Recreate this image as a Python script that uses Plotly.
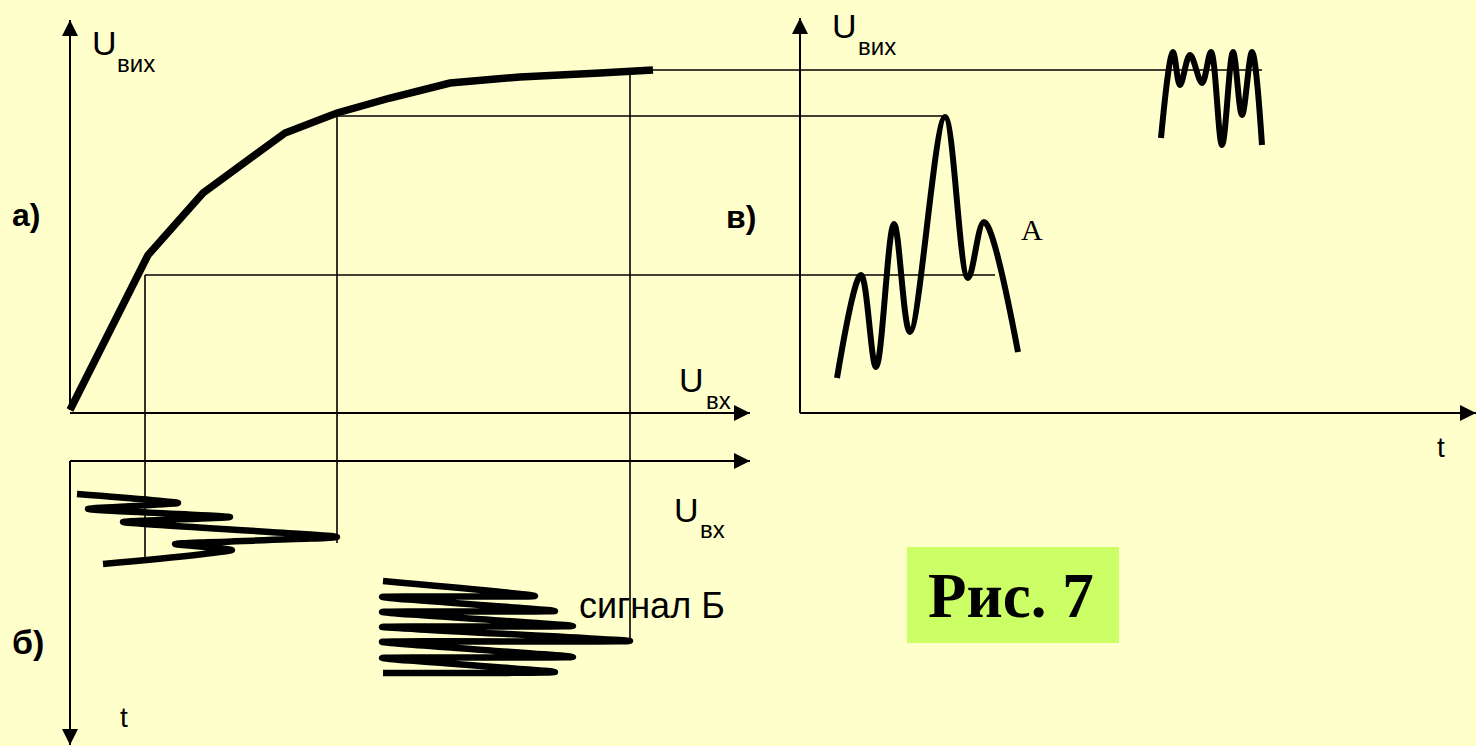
import plotly.graph_objects as go

W, H = 1476, 746
BG = "#FFFFCC"

# ---- transfer characteristic (panel a), pixel-space points ----
curve_x = [70, 148, 203, 285, 337, 390, 450, 520, 600, 653]
curve_y = [410, 255, 193, 133, 113, 98, 83, 77, 73, 70]

# ---- input signal (panel b), small amplitude ----
sig_b_x = [77, 178, 88, 230, 123, 337, 175, 232, 103]
sig_b_y = [494, 503, 509, 517, 522, 537, 544, 550, 564]

# ---- input signal Б (panel b), large amplitude ----
sig_B_x = [383, 535, 382, 555, 382, 573, 382, 630, 382, 573, 382, 555, 383]
sig_B_y = [581, 596, 597, 611, 612, 626, 627, 641, 642, 657, 658, 672, 673]

# ---- output signal A (panel в) ----
sig_A_x = [837, 861, 876, 894, 910, 945, 968, 984, 1018]
sig_A_y = [378, 275, 367, 224, 332, 117, 278, 222, 352]

# ---- output of signal Б (panel в), clipped ----
sig_out_x = [1161, 1173, 1180, 1190, 1202, 1211, 1222, 1233, 1242, 1252, 1262]
sig_out_y = [138, 52, 85, 55, 83, 52, 145, 52, 115, 52, 145]

# ---- projection lines (thin) ----
proj_h = [  # (x0, x1, y)
    (145, 995, 275),
    (337, 945, 116),
    (653, 1262, 70),
]
proj_v = [  # (x, y0, y1)
    (145, 275, 557),
    (337, 113, 543),
    (630, 73, 638),
]

fig = go.Figure()

def line(xs, ys, width, shape="linear", smoothing=1.0):
    fig.add_trace(go.Scatter(
        x=xs, y=ys, mode="lines",
        line=dict(color="black", width=width, shape=shape, smoothing=smoothing),
        hoverinfo="skip", showlegend=False))

# thin projection lines
for x0, x1, y in proj_h:
    line([x0, x1], [y, y], 1.6)
for x, y0, y1 in proj_v:
    line([x, x], [y0, y1], 1.6)

# axes
axes = [
    ((70, 410), (70, 20)),     # a: vertical up
    ((70, 413), (750, 413)),   # a: horizontal right
    ((70, 461), (750, 461)),   # b: horizontal right
    ((70, 461), (70, 745)),    # b: vertical down
    ((800, 413), (800, 18)),   # в: vertical up
    ((800, 413), (1476, 413)), # в: horizontal right
]
for (x0, y0), (x1, y1) in axes:
    line([x0, x1], [y0, y1], 2)
    fig.add_annotation(x=x1, y=y1, ax=x0, ay=y0, xref="x", yref="y",
                       axref="x", ayref="y", text="", showarrow=True,
                       arrowhead=2, arrowsize=1.6, arrowwidth=2,
                       arrowcolor="black")

# thick curves
line(curve_x, curve_y, 7.5)
line(sig_b_x, sig_b_y, 6.5, shape="spline", smoothing=0.5)
line(sig_B_x, sig_B_y, 6.5, shape="spline", smoothing=0.5)
line(sig_A_x, sig_A_y, 6, shape="spline", smoothing=1.0)
line(sig_out_x, sig_out_y, 6, shape="spline", smoothing=1.0)

# "Рис. 7" box
fig.add_shape(type="rect", x0=907, x1=1119, y0=547, y1=643,
              fillcolor="#CCFF66", line=dict(width=0), layer="below")

SANS = "Liberation Sans, Arial, sans-serif"
SERIF = "Liberation Serif, Times New Roman, serif"

def txt(x, y, s, size, family=SANS, bold=False, anchor="left"):
    if bold:
        s = "<b>" + s + "</b>"
    fig.add_annotation(x=x, y=y, xref="x", yref="y", text=s, showarrow=False,
                       xanchor=anchor, yanchor="middle",
                       font=dict(family=family, size=size, color="black"))

# axis labels
txt(90, 43, "U", 34); txt(115, 63, "вих", 24)
txt(830, 26, "U", 34); txt(856, 46, "вих", 24)
txt(677, 380, "U", 34); txt(704, 400, "вх", 24)
txt(672, 510, "U", 34); txt(698, 529, "вх", 24)
txt(1435, 447, "t", 28)
txt(118, 717, "t", 28)
txt(10, 215, "а)", 32, bold=True)
txt(724, 217, "в)", 32, bold=True)
txt(10, 642, "б)", 34, bold=True)
txt(1019, 229, "A", 30, family=SERIF)
txt(577, 605, "сигнал Б", 36)
txt(1011, 596, "Рис. 7", 63, family=SERIF, bold=True, anchor="center")

fig.update_layout(
    width=W, height=H, margin=dict(l=0, r=0, t=0, b=0),
    paper_bgcolor=BG, plot_bgcolor=BG,
    xaxis=dict(range=[0, W], visible=False, fixedrange=True),
    yaxis=dict(range=[H, 0], visible=False, fixedrange=True),
    showlegend=False,
)
fig.write_html(
    "out.html",
    config={"displayModeBar": False},
    post_script="document.body.style.margin='0';document.body.style.overflow='hidden';",
)
